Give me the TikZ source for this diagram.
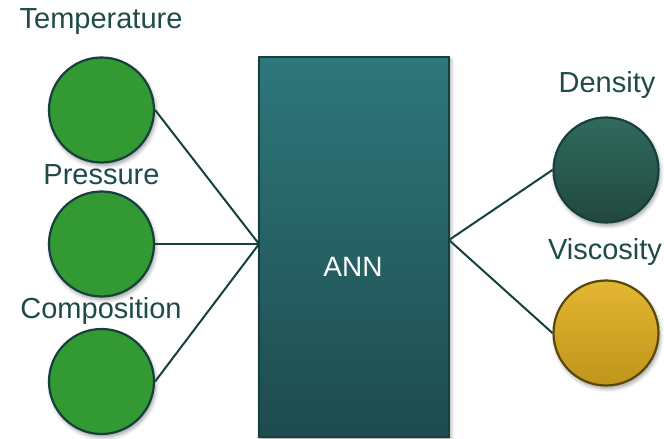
\documentclass[tikz,border=0pt]{standalone}
\usepackage{fontspec}
\setmainfont{Liberation Sans}
\usetikzlibrary{shadows.blur}
\definecolor{edge}{HTML}{173F3F}
\definecolor{txt}{HTML}{1E4A4A}
\definecolor{ingreen}{HTML}{339933}
\definecolor{boxtop}{HTML}{2E777B}
\definecolor{boxbot}{HTML}{1E4B4E}
\definecolor{dtop}{HTML}{306B5D}
\definecolor{dbot}{HTML}{22483F}
\definecolor{vtop}{HTML}{E3B632}
\definecolor{vbot}{HTML}{BF951A}
\definecolor{vedge}{HTML}{5A470C}
\tikzset{
  x=1pt,y=1pt,
  sh/.style={blur shadow={shadow xshift=1.5pt,shadow yshift=-3pt,shadow blur steps=6,shadow opacity=40,shadow blur radius=4pt}},
  neuron/.style={circle,minimum size=105pt,inner sep=0pt,line width=2.2pt,draw=edge,sh},
  lab/.style={text=txt,font=\fontsize{29}{31}\selectfont,inner sep=0pt},
  conn/.style={draw=edge,line width=2pt}
}
\begin{document}
\begin{tikzpicture}
\useasboundingbox (0,0) rectangle (664,439);
% box
\node[sh,draw=edge,line width=2pt,top color=boxtop,bottom color=boxbot,minimum width=190pt,minimum height=380pt,inner sep=0pt] (ann) at (354,192) {};
\node[text=white,font=\fontsize{28}{30}\selectfont,inner sep=0pt] (annlab) at (353,172) {ANN};
\coordinate (inpt) at (259,195);
\coordinate (outpt) at (449,199);
% inputs
\node[neuron,fill=ingreen] (t) at (101.5,329) {};
\node[neuron,fill=ingreen] (p) at (101.5,195) {};
\node[neuron,fill=ingreen] (c) at (101.5,57.5) {};
% outputs
\node[neuron,top color=dtop,bottom color=dbot] (d) at (606,269) {};
\node[neuron,top color=vtop,bottom color=vbot,draw=vedge] (v) at (606,106) {};
% connectors
\draw[conn] (t.east) -- (inpt);
\draw[conn] (p.east) -- (inpt);
\draw[conn] (c.east) -- (inpt);
\draw[conn] (outpt) -- (d.west);
\draw[conn] (outpt) -- (v.west);
% labels
\node[lab] (tl) at (101,417) {Temperature};
\node[lab] (pl) at (101.5,264) {Pressure};
\node[lab] (cl) at (101,128) {Composition};
\node[lab] (dl) at (607,354) {Density};
\node[lab] (vl) at (605,187) {Viscosity};
\end{tikzpicture}
\end{document}
